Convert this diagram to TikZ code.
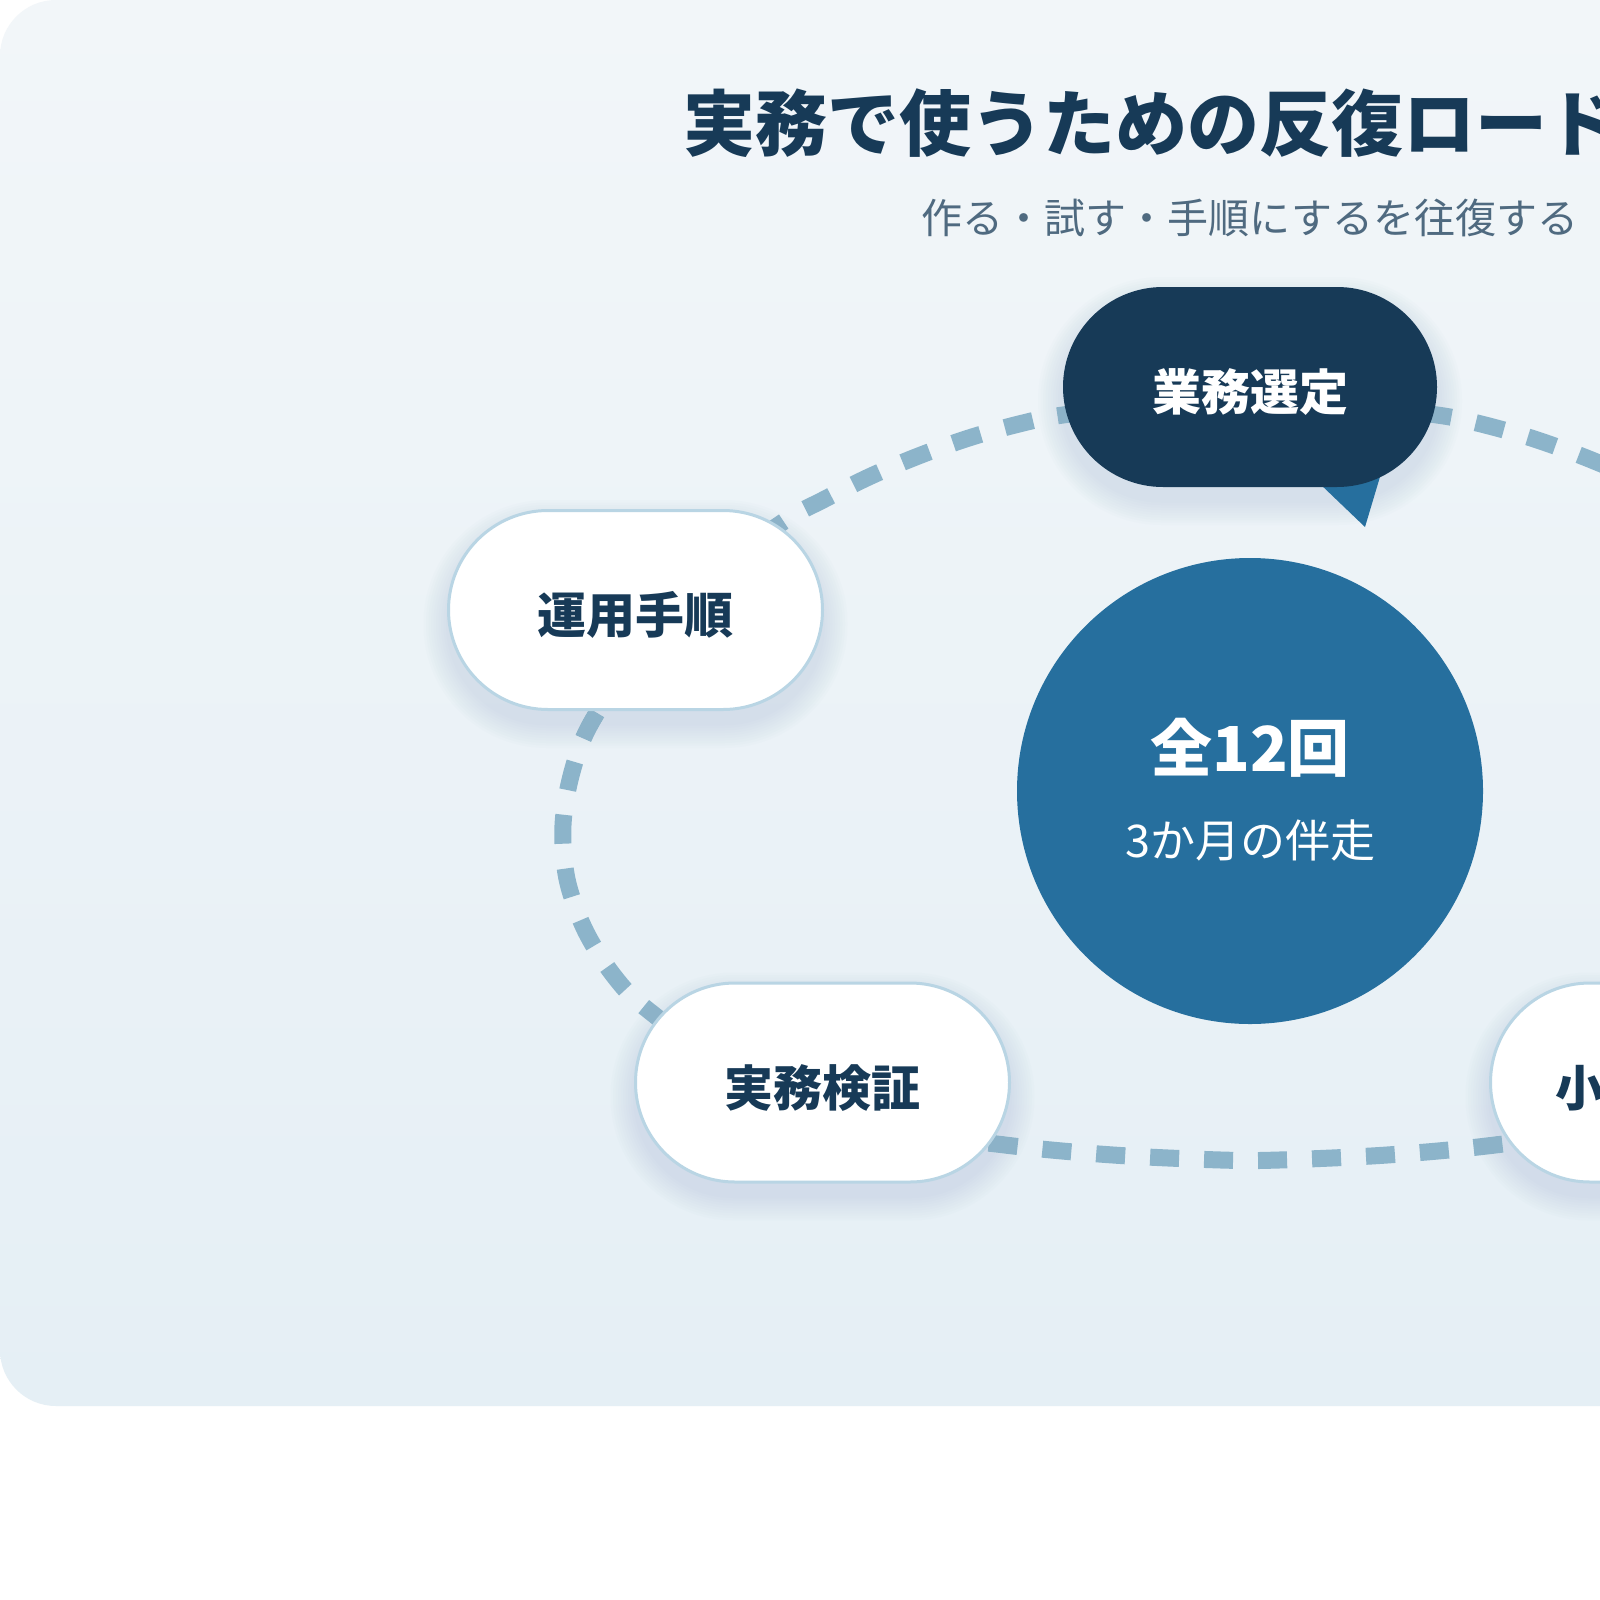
\documentclass[tikz,border=0pt]{standalone}
\usepackage{fontspec}
\setmainfont{Noto Sans CJK JP}
\usetikzlibrary{shapes.misc}
\definecolor{navy}{HTML}{173A57}
\definecolor{hubblue}{HTML}{266F9E}
\definecolor{dashc}{HTML}{8CB4CA}
\definecolor{borderc}{HTML}{B9D5E4}
\definecolor{subc}{HTML}{4F6A80}
\definecolor{bgtop}{HTML}{F2F6F9}
\definecolor{bgbot}{HTML}{E5EFF5}
\definecolor{shadowc}{HTML}{8FB2C8}
\newcommand\pillshadow[2]{%
  \foreach \i in {1,...,10}{%
    \fill[shadowc, opacity=0.024, rounded corners={(98+2.5*\i)*1pt}]
      ({#1-187-2.5*\i},{#2+14-99-2.5*\i}) rectangle ({#1+187+2.5*\i},{#2+14+99+2.5*\i});
  }}
\begin{document}
\begin{tikzpicture}[x=1pt,y=-1pt,
  pillw/.style={rounded rectangle, draw=borderc, line width=3pt, fill=white,
    minimum width=374pt, minimum height=199pt, inner sep=0pt,
    text height=53pt, text depth=6pt,
    font=\bfseries\fontsize{49pt}{49pt}\selectfont, text=navy},
  pilld/.style={rounded rectangle, fill=navy, minimum width=374pt, minimum height=200pt,
    inner sep=0pt, text height=53pt, text depth=6pt,
    font=\bfseries\fontsize{49pt}{49pt}\selectfont, text=white},
  ring/.style={draw=dashc, line width=17pt, dash pattern=on 29pt off 25pt},
  txt/.style={inner sep=0pt}]
\useasboundingbox (0,0) rectangle (1600,1600);
\clip (0,0) rectangle (1600,1600);
\fill[white] (0,0) rectangle (1600,1600);
\shade[top color=bgtop, bottom color=bgbot, rounded corners=56pt] (0,0) rectangle (1700,1406);

% title
\node[txt, anchor=west, text=navy, font=\bfseries\fontsize{72pt}{72pt}\selectfont] (title) at (683,123) {実務で使うための反復ロード};
\node[txt, text=subc, font=\fontsize{41pt}{41pt}\selectfont] (subtitle) at (1250,218) {作る・試す・手順にするを往復する};

% ring
\draw[ring] plot[smooth cycle, tension=0.55] coordinates {
 (1250,402) (1140,407) (1063,415) (1023,423) (972,437) (921,455) (871,476) (823,500)
 (783,522) (705,580) (640,650) (591,723) (572,772) (563,825) (567,879) (585,930)
 (614,976) (648,1010) (740,1075) (870,1125) (1005,1145) (1113,1155) (1221,1160)
 (1279,1160) (1387,1155) (1495,1145) (1630,1125) (1760,1075) (1852,1010) (1886,976)
 (1915,930) (1933,879) (1937,825) (1928,772) (1909,723) (1860,650) (1795,580)
 (1717,522) (1677,500) (1629,476) (1579,455) (1528,437) (1477,423) (1437,415) (1360,407)};

% shadows
\pillshadow{1250}{387}
\pillshadow{635.5}{610}
\pillshadow{822.5}{1082.5}
\pillshadow{1677.5}{1082.5}

% hub
\node[circle, fill=hubblue, minimum size=466pt, inner sep=0pt] (hub) at (1250,791) {};
\node[txt, text=white, font=\bfseries\fontsize{62pt}{62pt}\selectfont] (total) at (1250,748) {全12回};
\node[txt, text=white, font=\fontsize{45pt}{45pt}\selectfont] (months) at (1250,840) {3か月の伴走};

% tail + top node
\coordinate (tailL) at (1295,460);
\coordinate (tailR) at (1385,460);
\coordinate (tailT) at (1365,527);
\fill[hubblue] (tailL) -- (tailR) -- (tailT) -- cycle;
\node[pilld] (select) at (1250,387) {業務選定};

% white nodes
\node[pillw] (proc) at (635.5,610) {運用手順};
\node[pillw] (verify) at (822.5,1082.5) {実務検証};
\node[pillw, text width=245pt, align=left] (small) at (1677.5,1082.5) {小};
\end{tikzpicture}
\end{document}
